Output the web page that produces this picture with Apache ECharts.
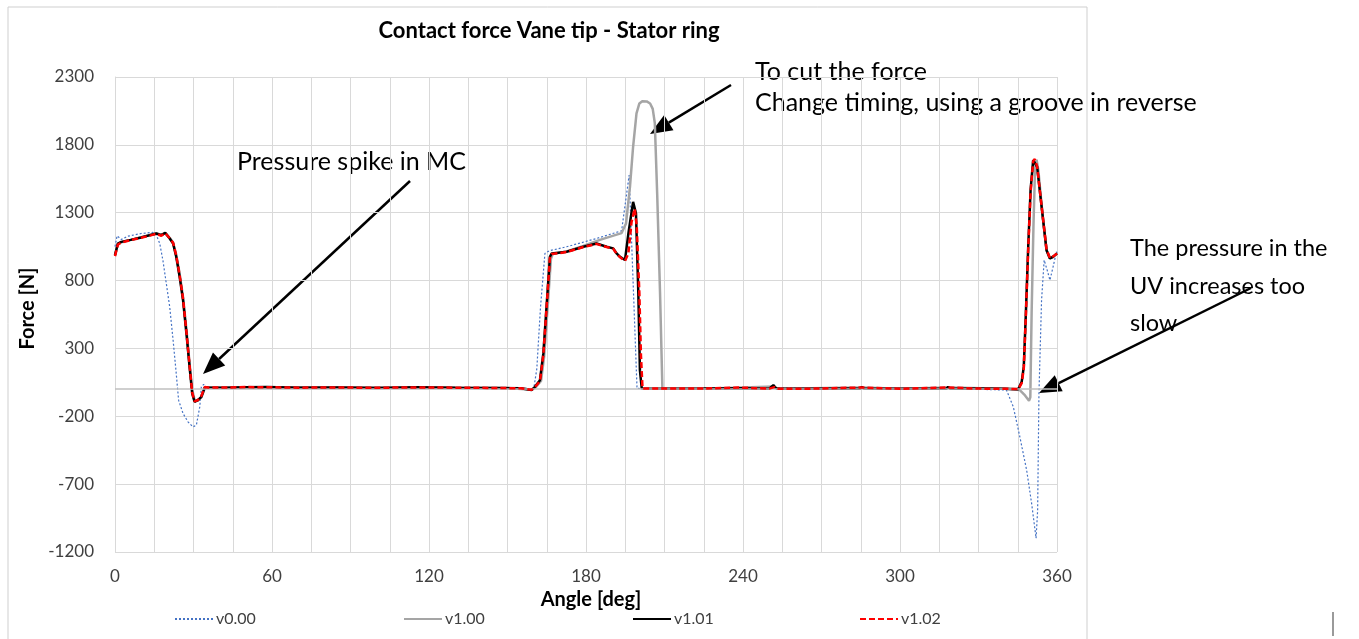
<!DOCTYPE html>
<html><head><meta charset="utf-8">
<script src="https://cdn.jsdelivr.net/npm/echarts@6/dist/echarts.min.js"></script>
<style>html,body{margin:0;padding:0;background:#fff}#c{width:1359px;height:639px}</style>
</head><body><div id="c"></div>
<script>
// ---- data ----
const xTicks = [0, 60, 120, 180, 240, 300, 360];
const yTicks = [-1200, -700, -200, 300, 800, 1300, 1800, 2300];
const seriesNames = ['v0.00', 'v1.00', 'v1.01', 'v1.02'];

const v000Angle = [0,0.8,2.4,5,10,14.5,15.8,17.1,18.3,19.6,20.9,22.2,23.4,24.3,26,27.9,29.8,31.1,32.4,33,33.9,34.9,45,60,90,120,150,158,160,161.2,162.6,164.3,166,172.6,184,193.6,196.5,199.5,220,252,285,320,340.7,343.3,345.8,348.4,350.3,352,352.6,353.1,354.1,355.1,356.2,357.3,358.5,359.8,360];
const v000Force = [1050,1130,1103,1127,1147,1155,1135,1073,950,779,607,361,116,-81,-179,-241,-278,-265,-130,17,35,10,12,15,12,10,8,5,0,150,600,1000,1020,1049,1110,1167,1577,5,3,10,8,5,-7,-130,-351,-597,-842,-1098,-892,-32,656,951,880,803,901,1012,1000];

const v100Angle = [0,1.1,2.4,6,10,14,15.8,17.7,19.2,20.9,22.2,23.4,24.7,26,27.3,28.5,29.5,30.4,31.7,33,34.3,35.5,42,60,90,120,150,159.2,160.8,162.8,164,165.4,166.6,167.3,172.6,179,185.3,191.1,193.6,195.3,196.8,198,199.3,200.4,201.5,203.2,204.5,205.5,206.3,207.2,208.3,209.2,225,252,253,285.3,300,318.4,340,345.8,347.5,349.3,349.8,350.3,351,351.6,352.2,352.9,353.7,354.7,356,357.3,358.5,360];
const v100Force = [990,1070,1083,1100,1120,1140,1148,1138,1150,1115,1080,990,850,680,440,190,0,-80,-85,-60,5,12,10,14,12,10,8,-5,15,60,240,620,960,995,1015,1055,1100,1135,1150,1221,1491,1786,2032,2105,2122,2120,2105,2065,1960,1442,705,5,3,20,3,12,3,12,3,-7,-40,-85,-60,558,1200,1620,1690,1610,1440,1245,1024,963,975,1000];

const v101Angle = [0,1.1,2.4,6,10,14,15.8,17.7,19.2,20.9,22.2,23.4,24.7,26,27.3,28.5,29.5,30.4,31.7,33,34.3,35.5,42,50,58,70,85,100,115,130,145,155,159.2,160.5,162.4,163.7,165,166.2,166.9,172.6,179,184,187.9,190.4,191.7,193,194.9,196.2,198,199.1,200,200.6,201.3,210,225,240,250,251.6,252.3,253.2,265,280,284.7,285.4,286.2,300,317.7,318.4,319.2,330,340,345.2,346.5,347.3,348.1,349,349.9,350.9,351.5,352.4,353.4,354.7,356,357.3,358.5,360];
const v101Force = [987,1073,1085,1100,1118,1138,1147,1135,1152,1110,1073,975,828,656,410,164,-32,-93,-81,-57,13,12,10,14,16,10,13,9,14,10,8,6,-7,17,66,263,631,975,1000,1012,1049,1073,1049,1037,1000,975,951,1147,1380,1295,705,140,5,3,4,6,3,30,12,2,3,4,2,17,4,3,2,17,3,4,3,0,54,164,558,1049,1466,1688,1700,1638,1466,1245,1024,963,975,1000];

const v102Angle = [0,1.1,2.4,6,10,14,15.8,17.7,19.2,20.9,22.2,23.4,24.7,26,27.3,28.5,29.5,30.4,31.7,33,34.3,35.5,42,50,58,70,85,100,115,130,145,155,159.2,160.5,162.4,163.7,165,166.2,166.9,172.6,179,184,187.9,190.4,191.7,193,194.9,196.2,197.4,198.6,199.4,200.4,201,201.6,210,225,238,242,250,252,253,265,285.3,300,318.4,330,340,345.2,346.5,347.3,348.1,349,349.9,350.9,351.5,352.4,353.4,354.7,356,357.3,358.5,360];
const v102Force = [980,1065,1080,1098,1115,1135,1145,1130,1150,1112,1078,985,840,668,420,175,-25,-90,-80,-50,15,12,12,15,14,11,12,10,13,11,9,6,-5,15,60,250,620,965,995,1010,1047,1070,1047,1035,998,972,945,1000,1230,1330,1200,705,250,5,4,5,12,10,4,15,3,3,12,3,12,4,3,0,45,150,540,1030,1450,1680,1695,1640,1470,1250,1030,965,978,1000];

// ---- chart ----
const FONT = 'Lato';
const zip = (a, f) => a.map((x, i) => [x, f[i]]);
const chart = echarts.init(document.getElementById('c'), null, {renderer: 'canvas'});

function arrow(x1, y1, x2, y2) {
  const dx = x2 - x1, dy = y2 - y1, L = Math.hypot(dx, dy);
  const ux = dx / L, uy = dy / L, hl = 22, hw = 9;
  const bx = x2 - ux * hl, by = y2 - uy * hl;
  return [
    {type: 'line', silent: true, shape: {x1: x1, y1: y1, x2: bx, y2: by}, style: {stroke: '#000', lineWidth: 2.5}},
    {type: 'polygon', silent: true, shape: {points: [[x2, y2], [bx - uy * hw, by + ux * hw], [bx + uy * hw, by - ux * hw]]}, style: {fill: '#000'}}
  ];
}
function txt(x, y, s, font, align) {
  return {type: 'text', silent: true, x: x, y: y,
    style: {text: s, font: font, fill: '#000', align: align || 'left', textAlign: align || 'left', verticalAlign: 'middle', textVerticalAlign: 'middle'}};
}

const lineStyles = [
  {color: '#4472C4', width: 1.2, type: [2, 2]},
  {color: '#A5A5A5', width: 2.5, type: 'solid'},
  {color: '#000000', width: 2.5, type: 'solid'},
  {color: '#FF0000', width: 2.5, type: [6, 3]}
];
const dataSets = [zip(v000Angle, v000Force), zip(v100Angle, v100Force), zip(v101Angle, v101Force), zip(v102Angle, v102Force)];
const legendLeft = [174, 403, 632, 859];

const option = {
  animation: false,
  backgroundColor: '#fff',
  grid: {left: 115, right: 302, top: 77, bottom: 87, containLabel: false},
  xAxis: {
    type: 'value', min: 0, max: 360, interval: 15,
    axisLine: {show: false}, axisTick: {show: false},
    splitLine: {show: true, lineStyle: {color: '#D9D9D9', width: 1}},
    axisLabel: {margin: 16, fontFamily: FONT, fontSize: 17, color: '#404040',
      formatter: v => (xTicks.indexOf(v) >= 0 ? String(v) : '')},
    name: 'Angle [deg]', nameLocation: 'middle', nameGap: 36,
    nameTextStyle: {fontFamily: FONT, fontSize: 20, fontWeight: 'bold', color: '#000', padding: [0, 0, 0, 10]}
  },
  yAxis: {
    type: 'value', min: -1200, max: 2300,
    axisLine: {show: true, lineStyle: {color: '#D9D9D9'}},
    axisTick: {show: false, customValues: yTicks},
    splitLine: {show: true, lineStyle: {color: '#D9D9D9', width: 1}},
    axisLabel: {customValues: yTicks, margin: 21, fontFamily: FONT, fontSize: 17, color: '#404040',
      formatter: v => String(v)},
    name: 'Force [N]', nameLocation: 'middle', nameGap: 68, nameRotate: 90,
    nameTextStyle: {fontFamily: FONT, fontSize: 20, fontWeight: 'bold', color: '#000', padding: [0, 0, 0, 12]}
  },
  legend: seriesNames.map((n, i) => ({
    data: [n], left: legendLeft[i], top: 611, padding: 0, itemWidth: 38, itemHeight: 16, itemGap: 0,
    selectedMode: false, itemStyle: {opacity: 0},
    textStyle: {fontFamily: FONT, fontSize: 16, color: '#404040', padding: [0, 0, 0, -2]}
  })),
  series: seriesNames.map((n, i) => ({
    name: n, type: 'line', data: dataSets[i], symbol: 'none', showSymbol: false,
    smooth: false, lineStyle: lineStyles[i], itemStyle: {color: lineStyles[i].color},
    emphasis: {disabled: true}, z: 2 + i,
    markLine: i === 0 ? {silent: true, symbol: 'none', label: {show: false},
      lineStyle: {color: '#BFBFBF', width: 1.5, type: 'solid'}, data: [{yAxis: 0}]} : undefined
  })),
  graphic: [
    {type: 'rect', silent: true, z: -10, shape: {x: 8, y: 7, width: 1079, height: 700},
      style: {fill: 'none', stroke: '#CFCFCF', lineWidth: 1}},
    txt(549, 31, 'Contact force Vane tip - Stator ring', 'bold 22px Lato', 'center'),
    txt(237, 162, 'Pressure spike in MC', '25px Lato'),
    txt(755, 72, 'To cut the force', '25px Lato'),
    txt(755, 103, 'Change timing, using a groove in reverse', '25px Lato'),
    txt(1130, 248, 'The pressure in the', '23.5px Lato'),
    txt(1130, 286, 'UV increases too', '23.5px Lato'),
    txt(1130, 323, 'slow', '23.5px Lato'),
    ...arrow(410, 181, 203, 374),
    ...arrow(731, 85, 650, 134),
    ...arrow(1251, 288, 1039, 393),
    {type: 'line', silent: true, shape: {x1: 1333, y1: 612, x2: 1333, y2: 636}, style: {stroke: '#9A9A9A', lineWidth: 2}}
  ]
};
chart.setOption(option);
</script>
</body></html>
